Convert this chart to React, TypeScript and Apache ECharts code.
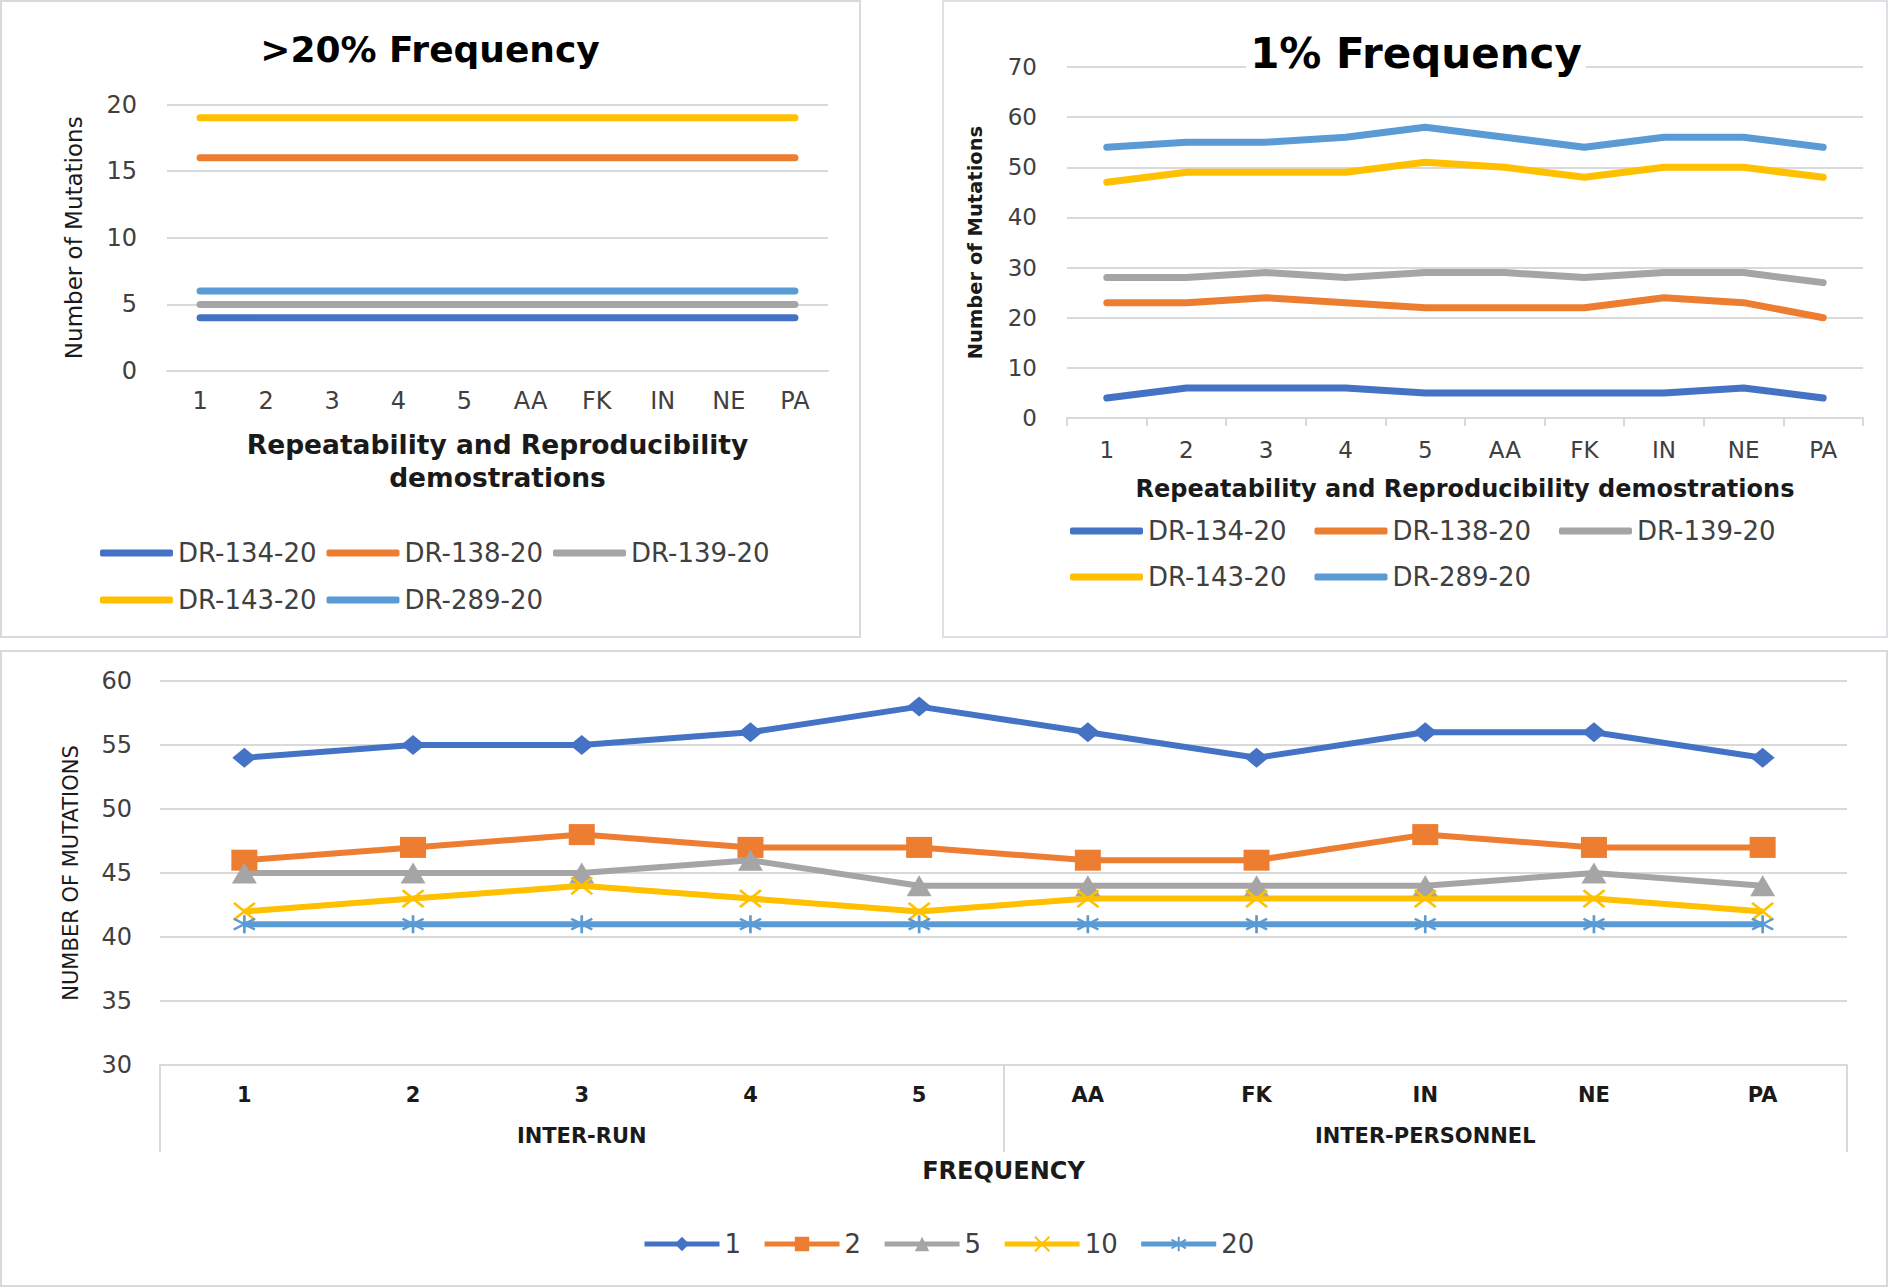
import React, { useEffect, useRef } from "react";
import * as echarts from "echarts";

// ---------- data ----------
const categories = ["1", "2", "3", "4", "5", "AA", "FK", "IN", "NE", "PA"];
const sampleNames = ["DR-134-20", "DR-138-20", "DR-139-20", "DR-143-20", "DR-289-20"];

// >20% Frequency panel
const high134 = [4, 4, 4, 4, 4, 4, 4, 4, 4, 4];
const high138 = [16, 16, 16, 16, 16, 16, 16, 16, 16, 16];
const high139 = [5, 5, 5, 5, 5, 5, 5, 5, 5, 5];
const high143 = [19, 19, 19, 19, 19, 19, 19, 19, 19, 19];
const high289 = [6, 6, 6, 6, 6, 6, 6, 6, 6, 6];

// 1% Frequency panel
const low134 = [4, 6, 6, 6, 5, 5, 5, 5, 6, 4];
const low138 = [23, 23, 24, 23, 22, 22, 22, 24, 23, 20];
const low139 = [28, 28, 29, 28, 29, 29, 28, 29, 29, 27];
const low143 = [47, 49, 49, 49, 51, 50, 48, 50, 50, 48];
const low289 = [54, 55, 55, 56, 58, 56, 54, 56, 56, 54];

// Bottom panel (frequency thresholds)
const groupLabels = ["INTER-RUN", "INTER-PERSONNEL"];
const freqNames = ["1", "2", "5", "10", "20"];
const freq1 = [54, 55, 55, 56, 58, 56, 54, 56, 56, 54];
const freq2 = [46, 47, 48, 47, 47, 46, 46, 48, 47, 47];
const freq5 = [45, 45, 45, 46, 44, 44, 44, 44, 45, 44];
const freq10 = [42, 43, 44, 43, 42, 43, 43, 43, 43, 42];
const freq20 = [41, 41, 41, 41, 41, 41, 41, 41, 41, 41];

const colors = ["#4472C4", "#ED7D31", "#A5A5A5", "#FFC000", "#5B9BD5"];

const FONT = "DejaVu Sans";
const GRID = "#d9d9d9";
const LABEL = "#404040";

const xPath = "path://M0,0L10,10M10,0L0,10";
const starPath = "path://M5,0L5,10M0,2L10,8M0,8L10,2";

function buildOption() {
  const highData = [high134, high138, high139, high143, high289];
  const lowData = [low134, low138, low139, low143, low289];
  const freqData = [freq1, freq2, freq5, freq10, freq20];
  const freqSymbols = ["diamond", "rect", "triangle", xPath, starPath];
  const freqSizes = [[24, 20], [26, 21], [25, 21], [21, 17], [21, 18]];

  const series: any[] = [];
  sampleNames.forEach((name, i) => {
    series.push({
      name,
      type: "line",
      xAxisIndex: 0,
      yAxisIndex: 0,
      data: highData[i],
      symbol: "none",
      showSymbol: false,
      color: colors[i],
      lineStyle: { width: 7, color: colors[i], cap: "round", join: "round" },
      emphasis: { disabled: true },
      z: 3,
    });
  });
  sampleNames.forEach((name, i) => {
    series.push({
      name,
      type: "line",
      xAxisIndex: 1,
      yAxisIndex: 1,
      data: lowData[i],
      symbol: "none",
      showSymbol: false,
      color: colors[i],
      lineStyle: { width: 7, color: colors[i], cap: "round", join: "round" },
      emphasis: { disabled: true },
      z: 3,
    });
  });
  freqNames.forEach((name, i) => {
    const isPath = i >= 3;
    series.push({
      name,
      type: "line",
      xAxisIndex: 2,
      yAxisIndex: 2,
      data: freqData[i],
      symbol: freqSymbols[i],
      symbolSize: freqSizes[i],
      showSymbol: true,
      color: colors[i],
      lineStyle: { width: 6, color: colors[i], join: "round" },
      itemStyle: isPath
        ? { color: colors[i], borderColor: colors[i], borderWidth: 2.5 }
        : { color: colors[i], borderWidth: 0 },
      emphasis: { disabled: true },
      z: 3,
    });
  });

  const tickLabel = (size: number, extra: any = {}) => ({
    fontFamily: FONT,
    fontSize: size,
    color: LABEL,
    ...extra,
  });

  const legendBase = {
    selectedMode: false,
    orient: "horizontal",
    padding: 0,
    textStyle: { fontFamily: FONT, fontSize: 26, color: LABEL, lineHeight: 30 },
  };

  return {
    animation: false,
    backgroundColor: "#ffffff",
    grid: [
      { left: 167, top: 104.5, width: 661, height: 266.5, outerBoundsMode: "none" },
      { left: 1067, top: 67, width: 796, height: 351, outerBoundsMode: "none" },
      { left: 160, top: 681, width: 1687, height: 384, outerBoundsMode: "none" },
    ],
    xAxis: [
      {
        type: "category",
        gridIndex: 0,
        data: categories,
        boundaryGap: true,
        axisLine: { show: true, lineStyle: { color: GRID, width: 2 } },
        axisTick: { show: false },
        axisLabel: tickLabel(24, { margin: 18, interval: 0 }),
        name: "Repeatability and Reproducibility\ndemostrations",
        nameLocation: "middle",
        nameGap: 57,
        nameTextStyle: {
          fontFamily: FONT,
          fontSize: 26.5,
          fontWeight: "bold",
          color: "#1a1a1a",
          lineHeight: 33,
        },
      },
      {
        type: "category",
        gridIndex: 1,
        data: categories,
        boundaryGap: true,
        axisLine: { show: true, lineStyle: { color: GRID, width: 2 } },
        axisTick: { show: true, length: 8, interval: 0, lineStyle: { color: GRID, width: 2 } },
        axisLabel: tickLabel(23, { margin: 20, interval: 0 }),
        name: "Repeatability and Reproducibility demostrations",
        nameLocation: "middle",
        nameGap: 59,
        nameTextStyle: {
          fontFamily: FONT,
          fontSize: 24,
          fontWeight: "bold",
          color: "#1a1a1a",
        },
      },
      {
        type: "category",
        gridIndex: 2,
        position: "bottom",
        data: categories,
        boundaryGap: true,
        axisLine: { show: true, lineStyle: { color: GRID, width: 2 } },
        axisTick: { show: false },
        axisLabel: tickLabel(21, { margin: 19, interval: 0, fontWeight: "bold", color: "#1a1a1a" }),
        name: "FREQUENCY",
        nameLocation: "middle",
        nameGap: 94,
        nameTextStyle: {
          fontFamily: FONT,
          fontSize: 24,
          fontWeight: "bold",
          color: "#1a1a1a",
        },
      },
      {
        type: "category",
        gridIndex: 2,
        position: "bottom",
        offset: 0,
        data: groupLabels,
        boundaryGap: true,
        axisLine: { show: false },
        axisTick: { show: true, length: 87, interval: 0, lineStyle: { color: GRID, width: 2 } },
        axisLabel: tickLabel(21, { margin: 60, interval: 0, fontWeight: "bold", color: "#1a1a1a" }),
        splitLine: { show: false },
      },
    ],
    yAxis: [
      {
        type: "value",
        gridIndex: 0,
        min: 0,
        max: 20,
        interval: 5,
        axisLine: { show: false },
        axisTick: { show: false },
        splitLine: { show: true, lineStyle: { color: GRID, width: 2 } },
        axisLabel: tickLabel(24, { margin: 30 }),
        name: "Number of Mutations",
        nameLocation: "middle",
        nameGap: 82,
        nameTextStyle: { fontFamily: FONT, fontSize: 23, color: "#1a1a1a" },
      },
      {
        type: "value",
        gridIndex: 1,
        min: 0,
        max: 70,
        interval: 10,
        axisLine: { show: false },
        axisTick: { show: false },
        splitLine: { show: true, lineStyle: { color: GRID, width: 2 } },
        axisLabel: tickLabel(23, { margin: 30 }),
        name: "Number of Mutations",
        nameLocation: "middle",
        nameGap: 82,
        nameTextStyle: { fontFamily: FONT, fontSize: 19.5, fontWeight: "bold", color: "#1a1a1a" },
      },
      {
        type: "value",
        gridIndex: 2,
        min: 30,
        max: 60,
        interval: 5,
        axisLine: { show: false },
        axisTick: { show: false },
        splitLine: { show: true, lineStyle: { color: GRID, width: 2 } },
        axisLabel: tickLabel(24, { margin: 28 }),
        name: "NUMBER OF MUTATIONS",
        nameLocation: "middle",
        nameGap: 79,
        nameTextStyle: { fontFamily: FONT, fontSize: 21, color: "#1a1a1a" },
      },
    ],
    legend: [
      {
        ...legendBase,
        left: 100,
        top: 538,
        data: sampleNames.slice(0, 3),
        icon: "roundRect",
        itemWidth: 73,
        itemHeight: 7,
        itemGap: 10,
      },
      {
        ...legendBase,
        left: 100,
        top: 585,
        data: sampleNames.slice(3),
        icon: "roundRect",
        itemWidth: 73,
        itemHeight: 7,
        itemGap: 10,
      },
      {
        ...legendBase,
        left: 1070,
        top: 516,
        data: sampleNames.slice(0, 3),
        icon: "roundRect",
        itemWidth: 73,
        itemHeight: 7,
        itemGap: 28,
      },
      {
        ...legendBase,
        left: 1070,
        top: 562,
        data: sampleNames.slice(3),
        icon: "roundRect",
        itemWidth: 73,
        itemHeight: 7,
        itemGap: 28,
      },
      {
        ...legendBase,
        left: 642,
        top: 1229,
        data: freqNames,
        itemWidth: 75,
        itemHeight: 18,
        itemGap: 21,
        lineStyle: { width: 5 },
      },
    ],
    graphic: [
      {
        type: "rect",
        shape: { x: 1, y: 1, width: 859, height: 636 },
        style: { fill: "none", stroke: GRID, lineWidth: 2 },
        z: -10,
      },
      {
        type: "rect",
        shape: { x: 943, y: 1, width: 944, height: 636 },
        style: { fill: "none", stroke: "#dce1e8", lineWidth: 2 },
        z: -10,
      },
      {
        type: "rect",
        shape: { x: 1, y: 651, width: 1886, height: 635 },
        style: { fill: "none", stroke: GRID, lineWidth: 2 },
        z: -10,
      },
      {
        type: "text",
        x: 430,
        y: 49,
        z: 20,
        style: {
          text: ">20% Frequency",
          fontFamily: FONT,
          fontSize: 36,
          fontWeight: "bold",
          fill: "#000000",
          align: "center",
          verticalAlign: "middle",
        },
      },
      {
        type: "text",
        x: 1416,
        y: 53,
        z: 20,
        style: {
          text: "1% Frequency",
          fontFamily: FONT,
          fontSize: 42,
          fontWeight: "bold",
          fill: "#000000",
          align: "center",
          verticalAlign: "middle",
          backgroundColor: "#ffffff",
          padding: [0, 4, 0, 4],
        },
      },
    ],
    series,
  };
}

export default function App() {
  const ref = useRef<HTMLDivElement>(null);
  useEffect(() => {
    if (!ref.current) return;
    const chart = echarts.init(ref.current, null, { renderer: "svg" });
    chart.setOption(buildOption() as any);
    return () => chart.dispose();
  }, []);
  return (
    <div
      ref={ref}
      style={{
        position: "absolute",
        left: 0,
        top: 0,
        width: 1889,
        height: 1288,
        background: "#ffffff",
      }}
    />
  );
}
